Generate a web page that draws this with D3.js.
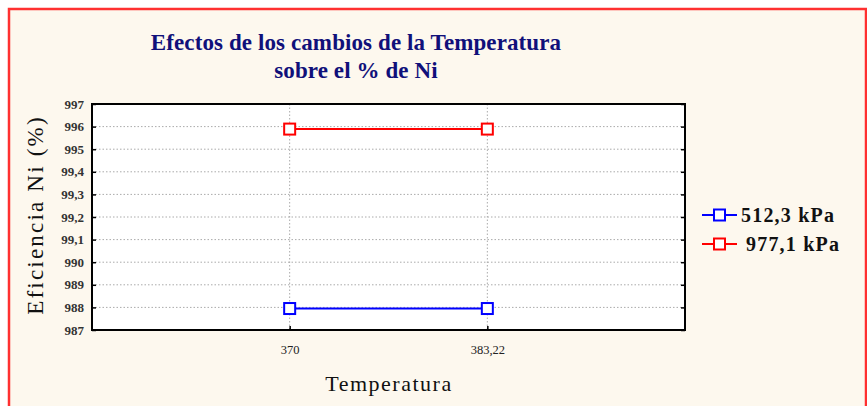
<!DOCTYPE html>
<html><head><meta charset="utf-8">
<script src="https://cdn.jsdelivr.net/npm/d3@7"></script>
<style>html,body{margin:0;padding:0;background:#fff;}</style>
</head><body>
<script>
const categories = ["370", "383,22"];
const seriesNames = ["512,3 kPa", "977,1 kPa"];
const series512 = [98.795, 98.795];
const series977 = [99.589, 99.589];
const yTicks = [98.7, 98.8, 98.9, 99.0, 99.1, 99.2, 99.3, 99.4, 99.5, 99.6, 99.7];
const yTickLabels = ["987", "988", "989", "990", "99,1", "99,2", "99,3", "99,4", "995", "996", "997"];
const colors = ["#0000ff", "#ff0000"];

const W = 867, H = 406;
const svg = d3.select("body").append("svg").attr("width", W).attr("height", H);
svg.append("rect").attr("x", 0).attr("y", 0).attr("width", W).attr("height", H).attr("fill", "#ffffff");
svg.append("rect").attr("x", 9).attr("y", 9).attr("width", 857).attr("height", 410)
  .attr("fill", "#fdf8ee").attr("stroke", "#ff3030").attr("stroke-width", 2.5);

const L = 92, R = 685, T = 104, B = 330;
svg.append("rect").attr("x", L).attr("y", T).attr("width", R - L).attr("height", B - T).attr("fill", "#ffffff");

const x = d3.scalePoint().domain(categories).range([L, R]).padding(1);
const y = d3.scaleLinear().domain([98.7, 99.7]).range([B, T]);

const g = svg.append("g");
yTicks.slice(1, -1).forEach(v => {
  g.append("line").attr("x1", L).attr("x2", R).attr("y1", y(v)).attr("y2", y(v))
    .attr("stroke", "#aaaaaa").attr("stroke-width", 1).attr("stroke-dasharray", "1.5,2");
});
categories.forEach(c => {
  g.append("line").attr("x1", x(c)).attr("x2", x(c)).attr("y1", T).attr("y2", B)
    .attr("stroke", "#aaaaaa").attr("stroke-width", 1).attr("stroke-dasharray", "1.5,2");
});

const yAxisL = d3.axisLeft(y).tickValues(yTicks).tickSize(-4).tickPadding(8)
  .tickFormat((d, i) => yTickLabels[i]);
const ga = svg.append("g").attr("transform", `translate(${L},0)`).call(yAxisL);
ga.select(".domain").remove();
ga.selectAll("text").attr("font-family", "Liberation Serif, serif").attr("font-size", 13)
  .attr("font-weight", "bold").attr("fill", "#333");
ga.selectAll("line").attr("stroke", "#000").attr("stroke-width", 1.5);
const yAxisR = d3.axisRight(y).tickValues(yTicks).tickSize(-4).tickFormat("");
const gr = svg.append("g").attr("transform", `translate(${R},0)`).call(yAxisR);
gr.select(".domain").remove();
gr.selectAll("line").attr("stroke", "#000").attr("stroke-width", 1.5);

const xAxis = d3.axisBottom(x).tickSize(-4).tickPadding(15);
const gx = svg.append("g").attr("transform", `translate(0,${B})`).call(xAxis);
gx.select(".domain").remove();
gx.selectAll("line").attr("stroke", "#000").attr("stroke-width", 1.5);
gx.selectAll("text").attr("font-family", "Liberation Serif, serif").attr("font-size", 12.5).attr("fill", "#222");

svg.append("rect").attr("x", L).attr("y", T).attr("width", R - L).attr("height", B - T)
  .attr("fill", "none").attr("stroke", "#000").attr("stroke-width", 2);

[series512, series977].forEach((vals, si) => {
  const pts = categories.map((c, i) => [x(c), y(vals[i])]);
  svg.append("path").attr("d", d3.line()(pts)).attr("stroke", colors[si]).attr("stroke-width", 2).attr("fill", "none");
  pts.forEach(p => {
    svg.append("rect").attr("x", p[0] - 5.5).attr("y", p[1] - 5.5).attr("width", 11).attr("height", 11)
      .attr("fill", "#fff").attr("stroke", colors[si]).attr("stroke-width", 2);
  });
});

svg.append("text").attr("x", 356).attr("y", 50).attr("text-anchor", "middle")
  .attr("font-family", "Liberation Serif, serif").attr("font-weight", "bold").attr("font-size", 23)
  .attr("fill", "#10107a").attr("letter-spacing", 0.1).text("Efectos de los cambios de la Temperatura");
svg.append("text").attr("x", 356).attr("y", 78).attr("text-anchor", "middle")
  .attr("font-family", "Liberation Serif, serif").attr("font-weight", "bold").attr("font-size", 23)
  .attr("fill", "#10107a").attr("letter-spacing", 0.1).text("sobre el %  de Ni");

svg.append("text").attr("transform", `translate(43,${(T + B) / 2 - 2}) rotate(-90)`).attr("text-anchor", "middle")
  .attr("font-family", "Liberation Serif, serif").attr("font-size", 23).attr("fill", "#111")
  .attr("letter-spacing", 2.2).text("Eficiencia Ni (%)");
svg.append("text").attr("x", 389).attr("y", 391).attr("text-anchor", "middle")
  .attr("font-family", "Liberation Serif, serif").attr("font-size", 22).attr("fill", "#111")
  .attr("letter-spacing", 1.5).text("Temperatura");

seriesNames.forEach((n, i) => {
  const ly = 215 + i * 29;
  svg.append("line").attr("x1", 702).attr("x2", 737).attr("y1", ly).attr("y2", ly)
    .attr("stroke", colors[i]).attr("stroke-width", 2);
  svg.append("rect").attr("x", 714).attr("y", ly - 5.5).attr("width", 11).attr("height", 11)
    .attr("fill", "#fff").attr("stroke", colors[i]).attr("stroke-width", 2);
  svg.append("text").attr("x", i === 0 ? 741 : 746).attr("y", ly + 7)
    .attr("font-family", "Liberation Serif, serif").attr("font-weight", "bold").attr("font-size", 20)
    .attr("fill", "#111").attr("letter-spacing", 1.2).text(n);
});
</script>
</body></html>
